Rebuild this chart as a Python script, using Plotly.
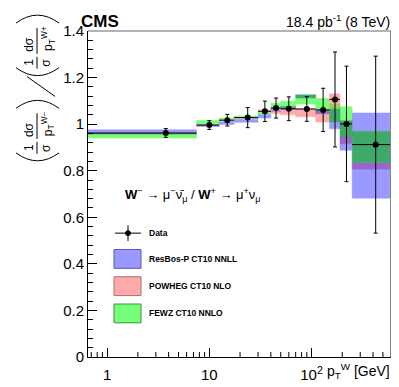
import math
import plotly.graph_objects as go

# p_T^W bins [GeV]
pt_edges = [0, 7.5, 12.5, 17.5, 30, 40, 50, 70, 110, 150, 190, 250, 600]
pt_centers = [3.75, 10, 15, 23.75, 35, 45, 60, 90, 130, 170, 220, 425]

# measured ratio W- / W+ (normalised)
data_ratio = [0.962, 0.996, 1.017, 1.028, 1.055, 1.069, 1.066, 1.065, 1.061, 1.106, 1.001, 0.912]
data_err = [0.019, 0.019, 0.025, 0.043, 0.044, 0.043, 0.051, 0.053, 0.093, 0.204, 0.248, 0.380]

# theory bands (low, high)
resbos_lo = [0.959, 0.990, 0.999, 1.008, 1.026, 1.056, 1.064, 1.112, 1.045, 0.980, 0.888, 0.682]
resbos_hi = [0.976, 0.997, 1.010, 1.021, 1.041, 1.066, 1.076, 1.126, 1.062, 1.065, 1.015, 1.048]
powheg_lo = [0.958, 0.995, 1.011, 1.023, 1.054, 1.046, 1.040, 1.032, 1.009, 1.065, 0.916, 0.806]
powheg_hi = [0.962, 1.000, 1.016, 1.028, 1.062, 1.058, 1.070, 1.066, 1.060, 1.130, 0.945, 0.835]
fewz_lo = [0.940, 1.001, 1.016, 1.027, 1.041, 1.066, 1.070, 1.086, 1.060, 1.009, 0.945, 0.835]
fewz_hi = [0.960, 1.016, 1.026, 1.035, 1.054, 1.090, 1.098, 1.126, 1.110, 1.086, 1.075, 0.970]

model_names = ["ResBos-P CT10 NNLL", "POWHEG CT10 NLO", "FEWZ CT10 NNLO"]
model_rgb = [(153, 153, 255), (255, 170, 170), (119, 255, 119)]
model_edge = ["#5a5aa8", "#b07070", "#3f8f3f"]
# colours where bands overlap (indices into the model list)
overlap_rgb = {
    (0, 1): (153, 102, 204),
    (0, 2): (64, 168, 104),
    (1, 2): (150, 205, 95),
    (0, 1, 2): (80, 125, 95),
}

y_ticks = [0, 0.2, 0.4, 0.6, 0.8, 1.0, 1.2, 1.4]
y_ticklabels = ["0", "0.2", "0.4", "0.6", "0.8", "1", "1.2", "1.4"]
x_ticks = [1, 10, 100]
x_ticklabels = ["1", "10", "10<sup>2</sup>"]

X_MIN, X_MAX = 0.65, 600
FONT = "Liberation Sans, Arial, Helvetica, sans-serif"

# plot area in pixels
L, R, T, B = 80, 383, 23, 352


def px(x):
    return (x - L) / (R - L)


def py(y):
    return (B - y) / (B - T)


fig = go.Figure()

# bands, split where they overlap
models = [(resbos_lo, resbos_hi), (powheg_lo, powheg_hi), (fewz_lo, fewz_hi)]
pieces = {}
for i in range(len(pt_centers)):
    x0 = max(pt_edges[i], X_MIN * 0.9)
    x1 = pt_edges[i + 1]
    cuts = sorted(set(v for lo, hi in models for v in (lo[i], hi[i])))
    for a, b in zip(cuts[:-1], cuts[1:]):
        mid = 0.5 * (a + b)
        key = tuple(k for k, (lo, hi) in enumerate(models) if lo[i] <= mid <= hi[i])
        if not key:
            continue
        xs, ys = pieces.setdefault(key, ([], []))
        xs += [x0, x1, x1, x0, x0, None]
        ys += [a, a, b, b, a, None]

for key, (xs, ys) in sorted(pieces.items(), key=lambda kv: len(kv[0])):
    rgb = model_rgb[key[0]] if len(key) == 1 else overlap_rgb[key]
    col = "rgb(%d,%d,%d)" % rgb
    fig.add_trace(go.Scatter(x=xs, y=ys, mode="lines", fill="toself", fillcolor=col,
                             line=dict(width=0.5, color=col), hoverinfo="skip", showlegend=False))

# horizontal bin-width bars
hx, hy = [], []
for i, v in enumerate(data_ratio):
    hx += [max(pt_edges[i], X_MIN * 0.9), pt_edges[i + 1], None]
    hy += [v, v, None]
fig.add_trace(go.Scatter(x=hx, y=hy, mode="lines", line=dict(color="black", width=1),
                         hoverinfo="skip", showlegend=False))

# data points
fig.add_trace(go.Scatter(
    x=pt_centers, y=data_ratio, mode="markers",
    marker=dict(color="black", size=6),
    error_y=dict(type="data", array=data_err, color="black", thickness=1, width=2),
    showlegend=False, name="Data"))

shapes = []
annotations = []

# frame top/right
shapes.append(dict(type="line", xref="paper", yref="paper", x0=0, x1=1, y0=1, y1=1,
                   line=dict(color="#666666", width=1)))
shapes.append(dict(type="line", xref="paper", yref="paper", x0=1, x1=1, y0=0, y1=1,
                   line=dict(color="#888888", width=2)))

# minor ticks of the log x axis
lmin, lmax = math.log10(X_MIN), math.log10(X_MAX)
for d in range(-1, 3):
    for k in range(2, 10):
        v = k * 10 ** d
        if X_MIN < v < X_MAX:
            xp = (math.log10(v) - lmin) / (lmax - lmin)
            shapes.append(dict(type="line", xref="paper", yref="paper", x0=xp, x1=xp,
                               y0=0, y1=py(B - 5), line=dict(color="black", width=1)))

# header texts
annotations.append(dict(text="<b>CMS</b>", xref="paper", yref="paper", x=px(71), y=py(13),
                        xanchor="left", yanchor="middle", showarrow=False,
                        font=dict(size=17, family=FONT, color="black")))
annotations.append(dict(text="18.4 pb<sup>-1</sup> (8 TeV)", xref="paper", yref="paper",
                        x=px(384), y=py(13), xanchor="right", yanchor="middle", showarrow=False,
                        font=dict(size=14, family=FONT, color="black")))

# x axis title
annotations.append(dict(text="p<sub>T</sub><sup>W</sup> [GeV]", xref="paper", yref="paper",
                        x=px(384), y=py(366), xanchor="right", yanchor="middle", showarrow=False,
                        font=dict(size=14, family=FONT, color="black")))

# process label
annotations.append(dict(
    text="<b>W</b><sup>\u2212</sup> \u2192 \u03bc<sup>\u2212</sup>\u03bd\u0304<sub>\u03bc</sub> / "
         "<b>W</b><sup>+</sup> \u2192 \u03bc<sup>+</sup>\u03bd<sub>\u03bc</sub>",
    xref="paper", yref="paper", x=px(115), y=py(189), xanchor="left", yanchor="middle",
    showarrow=False, font=dict(size=13, family=FONT, color="black")))

# legend (drawn by hand)
shapes.append(dict(type="line", xref="paper", yref="paper", x0=px(107), x1=px(133),
                   y0=py(227), y1=py(227), line=dict(color="black", width=1)))
shapes.append(dict(type="line", xref="paper", yref="paper", x0=px(120), x1=px(120),
                   y0=py(219), y1=py(235), line=dict(color="black", width=1)))
shapes.append(dict(type="circle", xref="paper", yref="paper", x0=px(117.5), x1=px(122.5),
                   y0=py(229.5), y1=py(224.5), fillcolor="black", line=dict(color="black", width=1)))
annotations.append(dict(text="<b>Data</b>", xref="paper", yref="paper", x=px(139), y=py(227),
                        xanchor="left", yanchor="middle", showarrow=False,
                        font=dict(size=8.5, family=FONT, color="black")))
box_tops = [243.5, 271, 298.5]
for k, top in enumerate(box_tops):
    shapes.append(dict(type="rect", xref="paper", yref="paper", x0=px(106), x1=px(133),
                       y0=py(top + 19), y1=py(top), fillcolor="rgb(%d,%d,%d)" % model_rgb[k],
                       line=dict(color=model_edge[k], width=1)))
    annotations.append(dict(text="<b>%s</b>" % model_names[k], xref="paper", yref="paper",
                            x=px(139), y=py(top + 9.5), xanchor="left", yanchor="middle",
                            showarrow=False, font=dict(size=8.5, family=FONT, color="black")))

# y axis title: (1/sigma dsigma/dpT W-) / (1/sigma dsigma/dpT W+)
def rot_text(text, x, y, size=12):
    annotations.append(dict(text=text, xref="paper", yref="paper", x=px(x), y=py(y),
                            xanchor="center", yanchor="middle", textangle=-90, showarrow=False,
                            font=dict(size=size, family=FONT, color="black")))


def paren(ends_y, apex_y):
    cy = 2 * apex_y - ends_y
    path = "M %f,%f Q %f,%f %f,%f" % (px(8), py(ends_y), px(29.5), py(cy), px(51), py(ends_y))
    shapes.append(dict(type="path", xref="paper", yref="paper", path=path,
                       line=dict(color="black", width=1)))


def vbar(x, y0, y1):
    shapes.append(dict(type="line", xref="paper", yref="paper", x0=px(x), x1=px(x),
                       y0=py(y0), y1=py(y1), line=dict(color="black", width=1)))


for (base, sign) in [(0, "\u2212"), (-86, "+")]:
    paren(146 + base, 154 + base)
    paren(101 + base, 93 + base)
    rot_text("1", 21, 141 + base)
    rot_text("d\u03c3", 21, 123 + base)
    rot_text("\u03c3", 38, 141 + base)
    rot_text("p<sub>T</sub><sup>W%s</sup>" % sign, 40, 117 + base)
    vbar(29, 135 + base, 147 + base)
    vbar(29, 106 + base, 132 + base)

shapes.append(dict(type="line", xref="paper", yref="paper", x0=px(47), x1=px(19),
                   y0=py(89), y1=py(69), line=dict(color="black", width=1)))

fig.update_layout(
    width=399, height=387,
    margin=dict(l=L, r=399 - R, t=T, b=387 - B),
    paper_bgcolor="white", plot_bgcolor="white",
    font=dict(family=FONT, color="black"),
    showlegend=False,
    shapes=shapes,
    annotations=annotations,
    xaxis=dict(type="log", range=[lmin, lmax],
               tickmode="array", tickvals=x_ticks, ticktext=x_ticklabels,
               ticks="inside", ticklen=9, tickwidth=1, tickcolor="black",
               showline=True, linecolor="black", linewidth=1, mirror=False,
               showgrid=False, zeroline=False, ticklabelstandoff=4,
               tickfont=dict(size=15, family=FONT, color="black")),
    yaxis=dict(range=[0, 1.4], tickmode="array", tickvals=y_ticks, ticktext=y_ticklabels,
               ticks="inside", ticklen=9, tickwidth=1, tickcolor="black",
               showline=True, linecolor="black", linewidth=1, mirror=False,
               showgrid=False, zeroline=False,
               tickfont=dict(size=15, family=FONT, color="black"),
               minor=dict(tickmode="linear", tick0=0, dtick=0.04, ticks="inside", ticklen=5,
                          tickcolor="black", tickwidth=1, showgrid=False)),
)

fig.write_html("out.html")
